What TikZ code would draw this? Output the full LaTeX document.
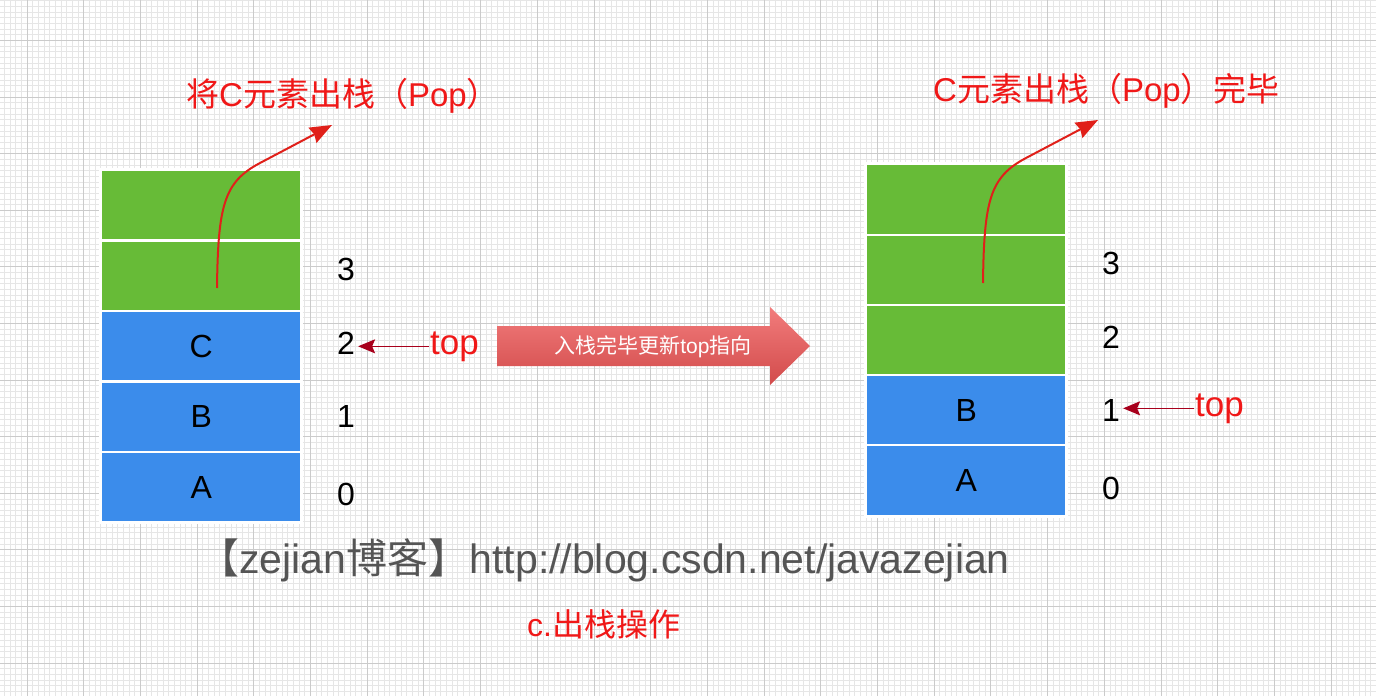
\documentclass[tikz,border=0pt]{standalone}
\usepackage{fontspec}
\setmainfont{Liberation Sans}
\newfontfamily\cjk{Noto Sans CJK SC}
\usetikzlibrary{arrows.meta}
\definecolor{gridminor}{HTML}{E6E6E6}
\definecolor{gridmajor}{HTML}{CBCBCB}
\definecolor{cellgreen}{HTML}{67BB37}
\definecolor{cellblue}{HTML}{3B8CEB}
\definecolor{titlered}{HTML}{F01818}
\definecolor{toparrowcol}{HTML}{A8001C}
\definecolor{curvered}{HTML}{E0201A}
\definecolor{wmgray}{HTML}{555555}
\definecolor{arrowtop}{HTML}{F27C7C}
\definecolor{arrowbot}{HTML}{D24B4B}
\begin{document}
\begin{tikzpicture}[x=1pt,y=-1pt,
  cell/.style={draw=none, minimum width=198pt, minimum height=68pt, inner sep=0pt,
    anchor=north west, font=\fontsize{32}{36}\selectfont},
  rcell/.style={cell, minimum height=68.3pt},
  digit/.style={inner sep=3pt, font=\fontsize{32}{36}\selectfont},
  toplabel/.style={inner sep=1pt, text=titlered, font=\fontsize{35}{40}\selectfont},
  titletext/.style={inner sep=0pt, text=titlered, font=\fontsize{33}{38}\selectfont},
  captext/.style={inner sep=0pt, text=titlered, font=\fontsize{32}{38}\selectfont},
  wmtext/.style={inner sep=0pt, text=wmgray, font=\fontsize{41}{46}\selectfont},
  arrowtext/.style={inner sep=0pt, text=white, font=\fontsize{21}{24}\selectfont},
  toparrow/.style={draw=toparrowcol, line width=1.5pt, -{Stealth[length=17pt,width=14pt,inset=3pt]}},
  curvearrow/.style={draw=curvered, line width=2pt, -{Stealth[length=22pt,width=17pt,inset=2pt]}}]
\useasboundingbox (0,0) rectangle (1376,696);
\fill[white] (0,0) rectangle (1376,696);
% grid
\foreach \i in {0,...,241}
  \draw[gridminor, line width=0.9pt] ({4.32+\i*5.67},0) -- ({4.32+\i*5.67},696);
\foreach \j in {0,...,122}
  \draw[gridminor, line width=0.9pt] (0,{0.88+\j*5.66}) -- (1376,{0.88+\j*5.66});
\foreach \i in {0,...,23}
  \draw[gridmajor, line width=1pt] ({27+\i*56.7},0) -- ({27+\i*56.7},696);
\foreach \j in {0,...,11}
  \draw[gridmajor, line width=1pt] (0,{40.5+\j*56.6}) -- (1376,{40.5+\j*56.6});
% stack backdrops
\fill[white] (99,168) rectangle (303,524);
\fill[white] (864,162) rectangle (1068,518);
% left stack
\node[cell, fill=cellgreen] (l4) at (102,171) {};
\node[cell, fill=cellgreen] (l3) at (102,241.5) {};
\node[cell, fill=cellblue] (l2) at (102,312) {C};
\node[cell, fill=cellblue] (l1) at (102,382.5) {B};
\node[cell, fill=cellblue] (l0) at (102,453) {A};
% right stack
\node[rcell, fill=cellgreen] (r4) at (867,165) {};
\node[rcell, fill=cellgreen] (r3) at (867,235.3) {};
\node[rcell, fill=cellgreen] (r2) at (867,305.6) {};
\node[rcell, fill=cellblue] (r1) at (867,375.9) {B};
\node[rcell, fill=cellblue] (r0) at (867,446.2) {A};
% indices
\node[digit] (ld3) at (346,269) {3};
\node[digit] (ld2) at (346,343) {2};
\node[digit] (ld1) at (346,416) {1};
\node[digit] (ld0) at (346,494) {0};
\node[digit] (rd3) at (1111,263.5) {3};
\node[digit] (rd2) at (1111,337) {2};
\node[digit] (rd1) at (1111,410.5) {1};
\node[digit] (rd0) at (1111,488) {0};
% top pointers
\node[toplabel, anchor=base west] (ltop) at (429,354) {top};
\node[toplabel, anchor=base west] (rtop) at (1194,416) {top};
\draw[toparrow] (ltop.west) -- (ltop.west -| ld2.east);
\draw[toparrow] (rtop.west) -- (rtop.west -| rd1.east);
% titles
\node[titletext, anchor=base] (ltitle) at (343,106.5) {{\cjk 将}C{\cjk 元素出栈（}Pop{\cjk ）}};
\node[titletext, anchor=base] (rtitle) at (1106.5,101.5) {C{\cjk 元素出栈（}Pop{\cjk ）完毕}};
% curved pop arrows
\coordinate (la0) at (217,288);
\coordinate (la1) at (260,163);
\coordinate (la2) at (332,125);
\draw[curvearrow] (la0) .. controls (218,205) and (224,182) .. (la1) -- (la2);
\coordinate (ra0) at (983,283);
\coordinate (ra1) at (1026,158);
\coordinate (ra2) at (1098,120);
\draw[curvearrow] (ra0) .. controls (984,200) and (990,177) .. (ra1) -- (ra2);
% big arrow
\shade[top color=arrowtop, bottom color=arrowbot]
  (497,326) -- (770,326) -- (770,307) -- (810,346) -- (770,385) -- (770,366) -- (497,366) -- cycle;
\node[arrowtext] (atext) at (653,347) {{\cjk 入栈完毕更新}top{\cjk 指向}};
% watermark
\node[wmtext, anchor=base east] (wm) at (1010,573) {{\cjk 【}zejian{\cjk 博客】}http://blog.csdn.net/javazejian};
% caption
\node[captext, anchor=base west] (cap) at (527,636) {c.{\cjk 出栈操作}};
\end{tikzpicture}
\end{document}
